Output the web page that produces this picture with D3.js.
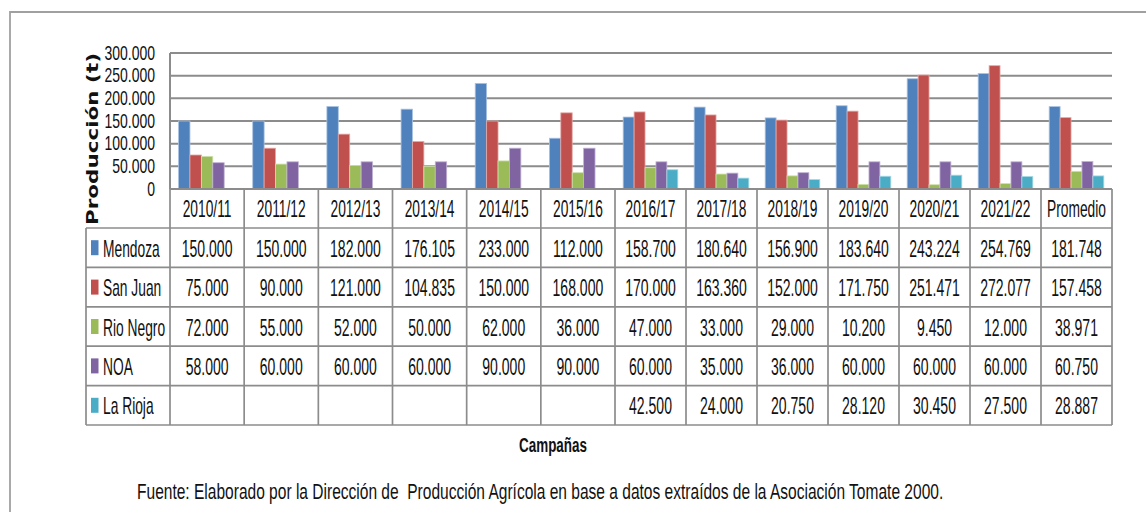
<!DOCTYPE html>
<html>
<head>
<meta charset="utf-8">
<script src="https://cdn.jsdelivr.net/npm/d3@7"></script>
<style>
  body { margin: 0; background: #fff; }
  svg { display: block; }
</style>
</head>
<body>
<svg id="chart" width="1146" height="512"></svg>
<script>
// campaigns (last column is the average)
var campaigns = ["2010/11", "2011/12", "2012/13", "2013/14", "2014/15", "2015/16", "2016/17",
  "2017/18", "2018/19", "2019/20", "2020/21", "2021/22", "Promedio"];

var mendoza = [150000, 150000, 182000, 176105, 233000, 112000, 158700, 180640, 156900, 183640, 243224, 254769, 181748];
var sanJuan = [75000, 90000, 121000, 104835, 150000, 168000, 170000, 163360, 152000, 171750, 251471, 272077, 157458];
var rioNegro = [72000, 55000, 52000, 50000, 62000, 36000, 47000, 33000, 29000, 10200, 9450, 12000, 38971];
var noa = [58000, 60000, 60000, 60000, 90000, 90000, 60000, 35000, 36000, 60000, 60000, 60000, 60750];
var laRioja = [null, null, null, null, null, null, 42500, 24000, 20750, 28120, 30450, 27500, 28887];

var seriesNames = ["Mendoza", "San Juan", "Rio Negro", "NOA", "La Rioja"];
var seriesValues = [mendoza, sanJuan, rioNegro, noa, laRioja];
var seriesColours = ["#4f81bd", "#c0504d", "#9bbb59", "#8064a2", "#4bacc6"];
var edgeColours = ["#a9c2e2", "#e3a9a7", "#cfe0ad", "#c0b2d3", "#a6d8e5"];

var yTicks = [0, 50000, 100000, 150000, 200000, 250000, 300000];

var yTitle = "Producción (t)";
var xTitle = "Campañas";
var source = "Fuente: Elaborado por la Dirección de  Producción Agrícola en base a datos extraídos de la Asociación Tomate 2000.";

// spanish style numbers: 150.000
var fmt = d3.formatLocale({decimal: ",", thousands: ".", grouping: [3], currency: ["$", ""]}).format(",d");

var svg = d3.select("#chart");
var font = "'Liberation Sans', Arial, sans-serif";
var lineCol = "#8c8c8c";

var plotTop = 53, plotBottom = 189, tableLeft = 86, plotLeft = 170, plotRight = 1112;
var headerBottom = 228, rowH = 39.4;

// columns are a bit wider in the first half of the table
var col = d3.scaleLinear().domain([0, 6, campaigns.length]).range([plotLeft, 615, plotRight]);
var y = d3.scaleLinear().domain([0, 300000]).range([plotBottom, plotTop]);

/** text squeezed horizontally, like the narrow font of the original */
function squeezed(parent, x, yy, sx, txt, size, anchor, weight) {
  return parent.append("text")
    .attr("transform", "translate(" + x + "," + yy + ") scale(" + sx + ",1)")
    .attr("text-anchor", anchor)
    .style("font-family", font)
    .style("font-size", size + "px")
    .style("font-weight", weight || "normal")
    .style("fill", "#111")
    .text(txt);
}

// outer frame (only top and left visible)
svg.append("path")
  .attr("d", "M10,512 L10,12 L1146,12")
  .attr("fill", "none")
  .attr("stroke", "#a0a0a0")
  .attr("stroke-width", 1.8);

// gridlines
svg.append("g").selectAll("line")
  .data(yTicks.slice(1))
  .enter().append("line")
  .attr("x1", plotLeft).attr("x2", plotRight)
  .attr("y1", function(d) { return y(d); })
  .attr("y2", function(d) { return y(d); })
  .attr("stroke", lineCol)
  .attr("stroke-width", 2);

// tick labels
yTicks.forEach(function(t) {
  squeezed(svg, 155, y(t) + 6.8, 0.7, fmt(t), 20, "end");
});

// y axis line
svg.append("line")
  .attr("x1", plotLeft).attr("x2", plotLeft)
  .attr("y1", plotTop).attr("y2", plotBottom)
  .attr("stroke", lineCol).attr("stroke-width", 2);

// axis title
svg.append("text")
  .attr("transform", "translate(98,139) rotate(-90)")
  .attr("text-anchor", "middle")
  .attr("textLength", 172)
  .attr("lengthAdjust", "spacingAndGlyphs")
  .style("font-family", "'DejaVu Sans', Verdana, sans-serif")
  .style("font-weight", "bold")
  .style("font-size", "16px")
  .style("fill", "#111")
  .text(yTitle);

// bars, excel style gap width 150%
var bars = svg.append("g");
campaigns.forEach(function(c, i) {
  var x0 = col(i), w = col(i + 1) - col(i);
  var bw = w / (seriesNames.length + 1.5);
  seriesValues.forEach(function(vals, s) {
    var v = vals[i];
    if (v === null) return;
    bars.append("rect")
      .attr("x", x0 + bw * 0.75 + s * bw)
      .attr("y", y(v))
      .attr("width", bw)
      .attr("height", y(0) - y(v))
      .attr("fill", seriesColours[s])
      .attr("stroke", edgeColours[s])
      .attr("stroke-width", 0.8);
  });
});

// data table
var table = svg.append("g");
var tableBottom = headerBottom + rowH * seriesNames.length;

// horizontal lines
table.append("line")
  .attr("x1", plotLeft).attr("x2", plotRight)
  .attr("y1", plotBottom).attr("y2", plotBottom)
  .attr("stroke", lineCol).attr("stroke-width", 2);
d3.range(seriesNames.length + 1).forEach(function(r) {
  var yy = headerBottom + r * rowH;
  table.append("line")
    .attr("x1", tableLeft).attr("x2", plotRight)
    .attr("y1", yy).attr("y2", yy)
    .attr("stroke", lineCol).attr("stroke-width", 1.7);
});

// vertical lines
d3.range(campaigns.length + 1).forEach(function(i) {
  table.append("line")
    .attr("x1", col(i)).attr("x2", col(i))
    .attr("y1", plotBottom).attr("y2", tableBottom)
    .attr("stroke", lineCol).attr("stroke-width", 1.7);
});
table.append("line")
  .attr("x1", tableLeft).attr("x2", tableLeft)
  .attr("y1", headerBottom).attr("y2", tableBottom)
  .attr("stroke", lineCol).attr("stroke-width", 1.7);

// header
campaigns.forEach(function(c, i) {
  squeezed(table, (col(i) + col(i + 1)) / 2, (plotBottom + headerBottom) / 2 + 8.5, 0.6, c, 23, "middle");
});

// rows: legend key + values
seriesNames.forEach(function(name, s) {
  var rowMid = headerBottom + rowH * s + rowH / 2;
  table.append("rect")
    .attr("x", 91).attr("y", rowMid - 7.5)
    .attr("width", 7.5).attr("height", 15)
    .attr("fill", seriesColours[s]);
  squeezed(table, 103, rowMid + 9, 0.6, name, 23, "start");
  seriesValues[s].forEach(function(v, i) {
    if (v === null) return;
    squeezed(table, (col(i) + col(i + 1)) / 2, rowMid + 9, 0.61, fmt(v), 23, "middle");
  });
});

// x title
squeezed(svg, 553, 452, 0.64, xTitle, 21, "middle", "bold");

// source line: squeeze it to fit between x=137 and x=943
var src = squeezed(svg, 137, 499, 1, source, 22, "start")
  .attr("xml:space", "preserve")
  .style("white-space", "pre");
var srcW = src.node().getComputedTextLength();
src.attr("transform", "translate(137,499) scale(" + (806 / srcW) + ",1)");
</script>
</body>
</html>
